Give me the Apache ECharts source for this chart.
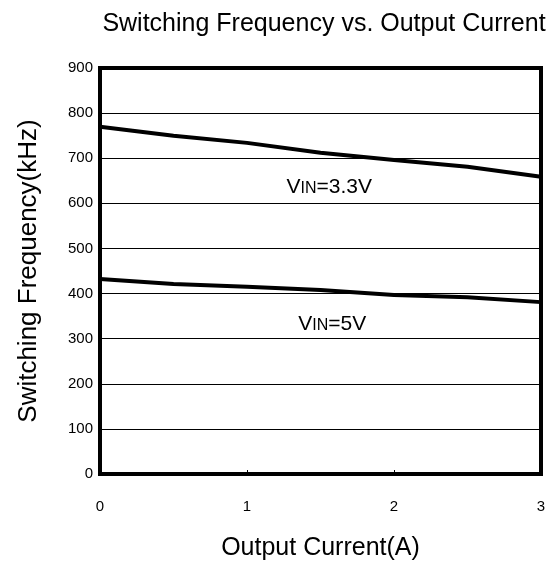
<!DOCTYPE html>
<html>
<head>
<meta charset="utf-8">
<script src="https://cdn.jsdelivr.net/npm/echarts@6/dist/echarts.min.js"></script>
<style>
  html, body { margin: 0; padding: 0; background: #fff; }
  #chart { width: 553px; height: 566px; }
</style>
</head>
<body>
<div id="chart"></div>
<script>
// output current (A)
const current = [0, 0.5, 1, 1.5, 2, 2.5, 3];
// switching frequency (kHz)
const vin33 = [770, 750, 734, 712, 696, 681, 659];
const vin5 = [432, 421, 415, 408, 397, 392, 381];
const xTicks = [0, 1, 2, 3];
const yTicks = [0, 100, 200, 300, 400, 500, 600, 700, 800, 900];

const font = "Liberation Sans, Arial, sans-serif";
const chart = echarts.init(document.getElementById("chart"));

const lineSeries = (name, vals, labelPos, labelText) => ({
  name: name,
  type: "line",
  data: current.map((c, i) => [c, vals[i]]),
  showSymbol: false,
  smooth: false,
  lineStyle: { color: "#000", width: 4 },
  markPoint: {
    symbol: "circle",
    symbolSize: 0,
    data: [{ coord: labelPos }],
    label: {
      show: true,
      formatter: labelText,
      color: "#000",
      rich: {
        v: { fontSize: 21, lineHeight: 22, fontFamily: font, color: "#000", verticalAlign: "bottom" },
        s: { fontSize: 16, lineHeight: 22, fontFamily: font, color: "#000", verticalAlign: "bottom", padding: [0, 0, 1, 0] }
      }
    }
  }
});

chart.setOption({
  animation: false,
  title: {
    text: "Switching Frequency vs. Output Current",
    left: 319,
    top: 7,
    textAlign: "center",
    textStyle: { fontFamily: font, fontSize: 25, fontWeight: "normal", color: "#000" }
  },
  grid: {
    left: 100, right: 12, top: 68, bottom: 92,
    outerBoundsMode: "none",
    show: true, borderColor: "#000", borderWidth: 4
  },
  xAxis: {
    type: "value",
    min: 0, max: 3, interval: 1,
    name: "Output Current(A)",
    nameLocation: "middle",
    nameGap: 62,
    nameTextStyle: { fontFamily: font, fontSize: 25, color: "#000" },
    axisLine: { show: false },
    axisTick: { show: true, inside: true, length: 4, lineStyle: { color: "#000" } },
    splitLine: { show: false },
    axisLabel: { fontFamily: font, fontSize: 15, color: "#000", margin: 25,
      formatter: v => xTicks.includes(v) ? String(v) : "" }
  },
  yAxis: {
    type: "value",
    min: 0, max: 900, interval: 100,
    name: "Switching Frequency(kHz)",
    nameLocation: "middle",
    nameGap: 58,
    nameTextStyle: { fontFamily: font, fontSize: 26, color: "#000" },
    axisLine: { show: false },
    axisTick: { show: false },
    splitLine: { show: true, lineStyle: { color: "#000", width: 1 } },
    axisLabel: { fontFamily: font, fontSize: 15, color: "#000", margin: 7,
      formatter: v => yTicks.includes(v) ? String(v) : "" }
  },
  series: [
    lineSeries("3.3V", vin33, [1.56, 636], "{v|V}{s|IN}{v|=3.3V}"),
    lineSeries("5V", vin5, [1.58, 333], "{v|V}{s|IN}{v|=5V}")
  ]
});
</script>
</body>
</html>
